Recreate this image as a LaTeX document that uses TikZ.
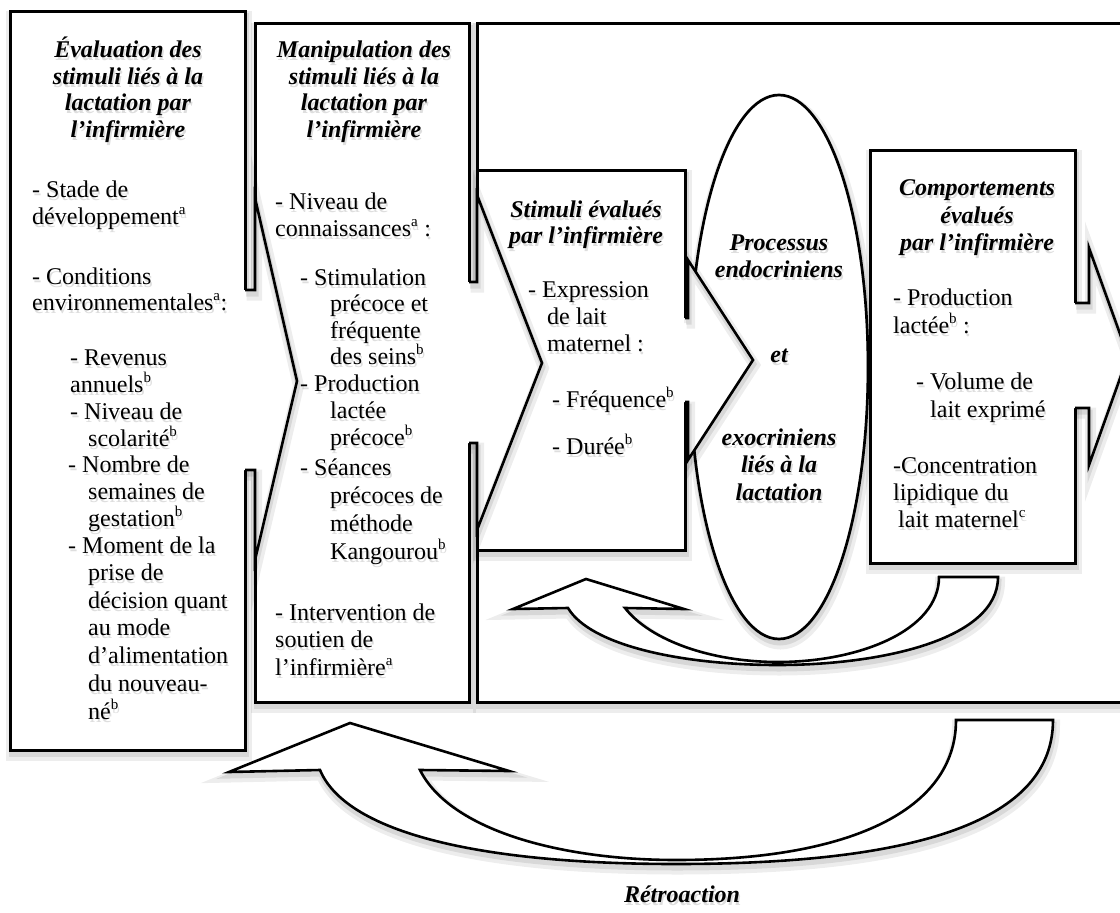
\documentclass[tikz,border=0pt]{standalone}
\usepackage{fontspec}
\setmainfont{Liberation Serif}
\usetikzlibrary{shapes.geometric}
\newcommand\sps[1]{\textsuperscript{\fontsize{15}{15}\selectfont #1}}
\newcommand\tl[4]{\node[txt,tshd,anchor=base west] (#1s) at (#2+1.5,#3+10.5) {#4};\node[txt,anchor=base west] (#1) at (#2,#3+7) {#4};}
\newcommand\tc[4]{\node[ttl,tshd,anchor=base] (#1s) at (#2+1.5,#3+10.5) {#4};\node[ttl,anchor=base] (#1) at (#2,#3+7) {#4};}
\tikzset{
  shd/.style={preaction={draw=black, draw opacity=.07, line width=11pt, transform canvas={xshift=1.5pt,yshift=-5pt}},
              preaction={draw=black, draw opacity=.09, line width=5pt, transform canvas={xshift=1pt,yshift=-4pt}}},
  txt/.style={inner sep=0pt, font=\fontsize{24}{27}\selectfont},
  ttl/.style={inner sep=0pt, font=\fontsize{24}{27}\selectfont\bfseries\itshape},
  tshd/.style={text opacity=.13},
  box/.style={shd, draw, line width=3pt, fill=white, rectangle, inner sep=0pt, anchor=center},
  blk/.style={line width=2.6pt, line join=miter},
}
\begin{document}
\begin{tikzpicture}[x=1pt,y=-1pt]
\useasboundingbox (0,0) rectangle (1120,913);
% boxes
\node[box, minimum width=235pt, minimum height=739pt] (left) at (127.5,380.5) {};
\node[box, minimum width=214pt, minimum height=679pt] (mid) at (362,362.5) {};
\node[box, minimum width=658pt, minimum height=679pt] (frame) at (806,362.5) {};
\node[box, minimum width=208pt, minimum height=380pt] (stim) at (581,360) {};
\node[shd, draw, line width=2.7pt, fill=white, ellipse, inner sep=0pt, minimum width=178pt, minimum height=544pt] (ell) at (779,367) {};
\node[box, minimum width=205pt, minimum height=413pt] (comp) at (972.5,356.5) {};
% block arrows between boxes
\fill[white] (243,290) -- (255,290) -- (255,198) -- (297,381) -- (255,560) -- (255,470) -- (243,470) -- cycle;
\draw[blk, shd] (245,290) -- (255,290) -- (255,198) -- (297,381) -- (255,560) -- (255,470) -- (245,470);
\fill[white] (467,282) -- (477,282) -- (477,195) -- (542,363) -- (477,530) -- (477,443) -- (467,443) -- cycle;
\draw[blk, shd] (469,282) -- (477,282) -- (477,195) -- (542,363) -- (477,530) -- (477,443) -- (469,443);
\fill[white] (683,318) -- (688,318) -- (688,260) -- (753,360) -- (688,460) -- (688,402) -- (683,402) -- cycle;
\draw[blk, shd] (685,318) -- (688,318) -- (688,260) -- (753,360) -- (688,460) -- (688,402) -- (685,402);
\fill[white] (1073,303) -- (1089,303) -- (1089,248) -- (1128,356) -- (1089,465) -- (1089,408) -- (1073,408) -- cycle;
\draw[blk, shd] (1075,303) -- (1089,303) -- (1089,248) -- (1128,356) -- (1089,465) -- (1089,408) -- (1075,408);
% feedback arrows
\filldraw[blk, shd, fill=white] (939,577) -- (998,577) .. controls (998,640) and (880,665) .. (778,665) .. controls (680,665) and (590,645) .. (568,608) -- (513,609) -- (586,579) -- (684,609) -- (625,608) .. controls (650,640) and (710,662) .. (778,662) .. controls (860,662) and (939,630) .. (939,577) -- cycle;
\filldraw[blk, shd, fill=white] (956,720) -- (1053,720) .. controls (1053,820) and (920,864) .. (676,864) .. controls (470,864) and (345,830) .. (320,770) -- (229,772) -- (350,723) -- (509,771) -- (420,770) .. controls (450,830) and (560,860) .. (676,860) .. controls (850,860) and (956,810) .. (956,720) -- cycle;
% left box text
\tc{lt1}{128}{50}{Évaluation des}
\tc{lt2}{128}{77}{stimuli liés à la}
\tc{lt3}{128}{103}{lactation par}
\tc{lt4}{128}{130}{l’infirmière}
\tl{l1}{32}{190}{- Stade de}
\tl{l2}{32}{217}{développement\sps{a}}
\tl{l3}{32}{277}{- Conditions}
\tl{l4}{32}{303}{environnementales\sps{a}:}
\tl{l5}{70}{358}{- Revenus}
\tl{l6}{70}{385}{annuels\sps{b}}
\tl{l7}{70}{412}{- Niveau de}
\tl{l8}{88}{439}{scolarité\sps{b}}
\tl{l9}{68}{465}{- Nombre de}
\tl{l10}{88}{492}{semaines de}
\tl{l11}{88}{519}{gestation\sps{b}}
\tl{l12}{68}{546}{- Moment de la}
\tl{l13}{88}{573}{prise de}
\tl{l14}{88}{601}{décision quant}
\tl{l15}{88}{628}{au mode}
\tl{l16}{88}{656}{d’alimentation}
\tl{l17}{88}{684}{du nouveau-}
\tl{l18}{88}{712}{né\sps{b}}
% middle box text
\tc{mt1}{364}{50}{Manipulation des}
\tc{mt2}{364}{77}{stimuli liés à la}
\tc{mt3}{364}{103}{lactation par}
\tc{mt4}{364}{130}{l’infirmière}
\tl{m1}{275}{202}{- Niveau de}
\tl{m2}{275}{229}{connaissances\sps{a} :}
\tl{m3}{300}{278}{- Stimulation}
\tl{m4}{330}{304}{précoce et}
\tl{m5}{330}{331}{fréquente}
\tl{m6}{330}{357}{des seins\sps{b}}
\tl{m7}{300}{384}{- Production}
\tl{m8}{330}{411}{lactée}
\tl{m9}{330}{438}{précoce\sps{b}}
\tl{m10}{300}{468}{- Séances}
\tl{m11}{330}{496}{précoces de}
\tl{m12}{330}{524}{méthode}
\tl{m13}{330}{552}{Kangourou\sps{b}}
\tl{m14}{275}{613}{- Intervention de}
\tl{m15}{275}{640}{soutien de}
\tl{m16}{275}{668}{l’infirmière\sps{a}}
% stimuli box text
\tc{st1}{586}{210}{Stimuli évalués}
\tc{st2}{586}{236}{par l’infirmière}
\tl{s1}{528}{290}{- Expression}
\tl{s2}{547}{317}{de lait}
\tl{s3}{547}{344}{maternel :}
\tl{s4}{552}{400}{- Fréquence\sps{b}}
\tl{s5}{552}{447}{- Durée\sps{b}}
% ellipse text
\tc{e1}{779}{243}{Processus}
\tc{e2}{779}{270}{endocriniens}
\tc{e3}{779}{355}{et}
\tc{e4}{779}{438}{exocriniens}
\tc{e5}{779}{465}{liés à la}
\tc{e6}{779}{493}{lactation}
% comportements text
\tc{c1}{977}{188}{Comportements}
\tc{c2}{977}{216}{évalués}
\tc{c3}{977}{243}{par l’infirmière}
\tl{cb1}{893}{298}{- Production}
\tl{cb2}{893}{326}{lactée\sps{b} :}
\tl{cb3}{916}{382}{- Volume de}
\tl{cb4}{930}{410}{lait exprimé}
\tl{cb5}{893}{466}{-Concentration}
\tl{cb6}{893}{493}{lipidique du}
\tl{cb7}{898}{520}{lait maternel\sps{c}}
% label
\tc{retro}{682}{895}{Rétroaction}
\end{tikzpicture}
\end{document}
